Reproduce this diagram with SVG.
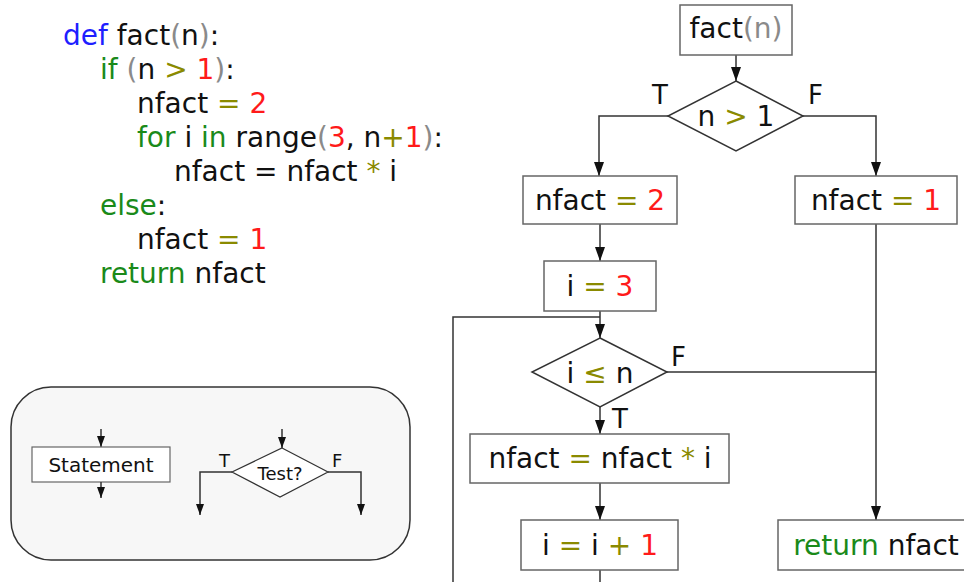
<svg xmlns="http://www.w3.org/2000/svg" width="964" height="582" viewBox="0 0 964 582">
  <style>
    text { font-family: "DejaVu Sans", "Liberation Sans", sans-serif; fill: #111; }
    .code { font-size: 28px; }
    .lbl { font-size: 28px; text-anchor: middle; }
    .tf { font-size: 26px; }
    .kw { fill: #1f1fff; }
    .g { fill: #1a8a1a; }
    .p { fill: #8a8a8a; }
    .o { fill: #8a8a00; }
    .r { fill: #ff1a1a; }
    .box { fill: #fff; stroke: #666; stroke-width: 1.5; }
    .dia { fill: #fff; stroke: #333; stroke-width: 1.5; }
    .wire { fill: none; stroke: #333; stroke-width: 1.5; }
    .arrow { marker-end: url(#head); }
    .small { marker-end: url(#headSmall); }
  </style>
  <defs>
    <marker id="head" markerUnits="userSpaceOnUse" markerWidth="14" markerHeight="10" refX="14" refY="5" orient="auto">
      <path d="M0,0 L14,5 L0,10 z" fill="#111"/>
    </marker>
    <marker id="headSmall" markerUnits="userSpaceOnUse" markerWidth="11" markerHeight="8" refX="11" refY="4" orient="auto">
      <path d="M0,0 L11,4 L0,8 z" fill="#111"/>
    </marker>
  </defs>

  <!-- Python source -->
  <g id="code" class="code">
    <text x="63" y="45"><tspan class="kw">def</tspan> fact<tspan class="p">(</tspan>n<tspan class="p">)</tspan>:</text>
    <text x="100" y="79"><tspan class="g">if</tspan> <tspan class="p">(</tspan>n <tspan class="o">&gt;</tspan> <tspan class="r">1</tspan><tspan class="p">)</tspan>:</text>
    <text x="137" y="113">nfact <tspan class="o">=</tspan> <tspan class="r">2</tspan></text>
    <text x="137" y="147"><tspan class="g">for</tspan> i <tspan class="g">in</tspan> range<tspan class="p">(</tspan><tspan class="r">3</tspan>, n<tspan class="o">+</tspan><tspan class="r">1</tspan><tspan class="p">)</tspan>:</text>
    <text x="174" y="181">nfact = nfact <tspan class="o">*</tspan> i</text>
    <text x="100" y="215"><tspan class="g">else</tspan>:</text>
    <text x="137" y="249">nfact <tspan class="o">=</tspan> <tspan class="r">1</tspan></text>
    <text x="100" y="283"><tspan class="g">return</tspan> nfact</text>
  </g>

  <!-- Legend -->
  <g id="legend">
    <rect x="11" y="387" width="399" height="173" rx="40" ry="40" fill="#f7f7f7" stroke="#333" stroke-width="1.5"/>
    <line x1="101" y1="429" x2="101" y2="447" class="wire small" stroke-width="1.2"/>
    <rect x="32" y="447" width="138" height="35" fill="#fff" stroke="#666" stroke-width="1.2"/>
    <text x="101" y="472" font-size="20" text-anchor="middle">Statement</text>
    <line x1="101" y1="482" x2="101" y2="498" class="wire small" stroke-width="1.2"/>
    <line x1="282" y1="429" x2="282" y2="448" class="wire small" stroke-width="1.2"/>
    <polygon points="282,448 328,472 280,497 232,472" fill="#fff" stroke="#333" stroke-width="1.2"/>
    <text x="280" y="480" font-size="18" text-anchor="middle">Test?</text>
    <polyline points="232,472 200,472 200,515" class="wire small" stroke-width="1.2"/>
    <polyline points="328,472 361,472 361,515" class="wire small" stroke-width="1.2"/>
    <text x="219" y="467" font-size="18">T</text>
    <text x="332" y="467" font-size="18">F</text>
  </g>

  <!-- Connectors -->
  <g id="connectors">
    <line x1="736" y1="55" x2="736" y2="81" class="wire arrow"/>
    <polyline points="668,116 599,116 599,176" class="wire arrow"/>
    <polyline points="803,116 876,116 876,176" class="wire arrow"/>
    <line x1="600" y1="224" x2="600" y2="261" class="wire arrow"/>
    <line x1="600" y1="311" x2="600" y2="338" class="wire arrow"/>
    <polyline points="453,582 453,317 600,317" class="wire"/>
    <line x1="600" y1="407" x2="600" y2="434" class="wire arrow"/>
    <line x1="600" y1="483" x2="600" y2="520" class="wire arrow"/>
    <line x1="600" y1="570" x2="600" y2="582" class="wire"/>
    <line x1="667" y1="372" x2="876" y2="372" class="wire"/>
    <line x1="876" y1="224" x2="876" y2="520" class="wire arrow"/>
    <text x="652" y="104" class="tf">T</text>
    <text x="808" y="104" class="tf">F</text>
    <text x="671" y="366" class="tf">F</text>
    <text x="612" y="428" class="tf">T</text>
  </g>

  <!-- Flowchart nodes -->
  <g id="start">
    <rect x="680" y="5" width="112" height="50" class="box"/>
    <text x="736" y="38" class="lbl">fact<tspan class="p">(n)</tspan></text>
  </g>
  <g id="test-n">
    <polygon points="736,81 803,116 736,151 668,116" class="dia"/>
    <text x="736" y="126" class="lbl">n <tspan class="o">&gt;</tspan> 1</text>
  </g>
  <g id="set-2">
    <rect x="523" y="176" width="154" height="48" class="box"/>
    <text x="600" y="210" class="lbl">nfact <tspan class="o">=</tspan> <tspan class="r">2</tspan></text>
  </g>
  <g id="set-1">
    <rect x="795" y="176" width="162" height="48" class="box"/>
    <text x="876" y="210" class="lbl">nfact <tspan class="o">=</tspan> <tspan class="r">1</tspan></text>
  </g>
  <g id="init-i">
    <rect x="544" y="261" width="112" height="50" class="box"/>
    <text x="600" y="296" class="lbl">i <tspan class="o">=</tspan> <tspan class="r">3</tspan></text>
  </g>
  <g id="test-i">
    <polygon points="600,338 667,372 600,407 532,372" class="dia"/>
    <text x="600" y="383" class="lbl">i <tspan class="o">≤</tspan> n</text>
  </g>
  <g id="multiply">
    <rect x="470" y="434" width="259" height="49" class="box"/>
    <text x="600" y="468" class="lbl">nfact <tspan class="o">=</tspan> nfact <tspan class="o">*</tspan> i</text>
  </g>
  <g id="increment">
    <rect x="521" y="520" width="157" height="50" class="box"/>
    <text x="600" y="555" class="lbl">i <tspan class="o">=</tspan> i <tspan class="o">+</tspan> <tspan class="r">1</tspan></text>
  </g>
  <g id="return">
    <rect x="778" y="520" width="196" height="50" class="box"/>
    <text x="876" y="555" class="lbl"><tspan class="g">return</tspan> nfact</text>
  </g>
</svg>
